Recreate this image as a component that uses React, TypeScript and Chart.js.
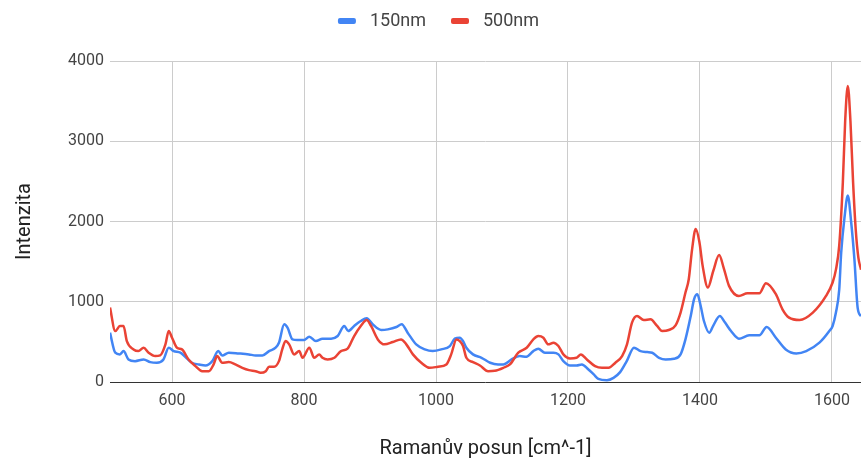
import React, { useEffect, useRef } from "react";
import { Chart, registerables } from "chart.js";

Chart.register(...registerables);

const seriesNames = ["150nm", "500nm"];
const seriesColors = ["#4285F4", "#EA4335"];

const shift150 = [
  506, 514, 521, 526.5, 534, 544, 557, 567, 577, 587, 595, 602.5, 612.6, 620, 630, 640.6, 650.7, 661, 670, 676,
  686, 701, 716.6, 726.7, 737, 747, 757, 762, 770, 775, 782.5, 790, 800, 808, 818, 828, 841, 851, 861, 867,
  876, 886, 895, 904, 917, 927, 940, 948, 957, 970, 983, 995, 1008, 1021, 1028.5, 1036, 1041, 1046, 1056, 1069,
  1082, 1094, 1102, 1114.5, 1127, 1137, 1147.5, 1155, 1165, 1178, 1185.5, 1193, 1203, 1213, 1221, 1231, 1239, 1246, 1259, 1269,
  1279, 1289, 1300, 1310, 1320, 1327.5, 1338, 1348, 1360.5, 1370.6, 1378, 1386, 1391, 1396, 1401, 1406, 1414, 1420, 1430, 1438,
  1447, 1459, 1474.5, 1490, 1501, 1515, 1530, 1546, 1561, 1581, 1596, 1601, 1606, 1611, 1614, 1619, 1624, 1629, 1634, 1639, 1644,
];
const intensity150 = [
  615, 365, 344, 385, 281, 260, 281, 248, 240, 281, 427, 385, 365, 315, 240, 219, 206, 260, 385, 331,
  365, 356, 344, 331, 331, 385, 427, 490, 719, 677, 531, 523, 523, 565, 510, 540, 540, 573, 698, 635,
  698, 760, 794, 719, 648, 656, 685, 719, 615, 469, 406, 385, 406, 448, 540, 552, 510, 427, 344, 302,
  240, 219, 219, 281, 323, 315, 385, 415, 365, 365, 344, 260, 206, 206, 219, 156, 94, 40, 23, 52,
  123, 260, 427, 385, 373, 365, 302, 281, 290, 344, 531, 823, 1031, 1094, 950, 760, 615, 700, 823, 740,
  635, 540, 581, 581, 685, 552, 406, 356, 385, 490, 635, 698, 865, 1150, 1615, 2050, 2323, 2000, 1531, 920, 820,
];

const shift500 = [
  506, 514, 521, 526.5, 531.5, 541.7, 549, 557, 564.5, 574.6, 582, 590, 595, 600, 607.6, 615, 625, 635.5, 645.6, 655.8,
  663, 668.4, 676, 686, 696, 706.5, 716.6, 726.7, 734.3, 742, 747, 754.7, 762, 767, 772, 777.5, 785, 792.7, 797.7, 808,
  815.5, 823, 828, 835.7, 846, 856, 866, 876, 886, 895, 901.6, 911.8, 922, 934.6, 947, 955, 965, 977.7, 990.4, 1003,
  1015.7, 1023, 1031, 1036, 1041, 1046, 1056, 1066.5, 1079, 1089, 1102, 1112, 1124.7, 1137.4, 1147.5, 1155, 1162.7, 1170, 1178, 1185.5,
  1193, 1203, 1213, 1219.5, 1228.6, 1241, 1251.5, 1261.6, 1271.8, 1282, 1289.4, 1297, 1304.6, 1314.8, 1325, 1335, 1342.7, 1352.8, 1363, 1370.6,
  1378, 1383, 1388, 1393.5, 1399, 1404, 1412, 1420, 1429, 1436, 1444, 1459, 1472, 1490, 1500, 1515, 1525, 1535, 1551, 1571,
  1591, 1601, 1606, 1611, 1616.5, 1620, 1624, 1628, 1632, 1636, 1640, 1644,
];
const intensity500 = [
  927, 635, 697, 697, 510, 406, 385, 427, 365, 323, 331, 469, 635, 552, 427, 406, 281, 198, 135, 135,
  219, 323, 240, 248, 219, 177, 148, 135, 115, 135, 190, 190, 260, 406, 510, 469, 344, 385, 302, 427,
  302, 344, 302, 281, 302, 385, 415, 573, 698, 773, 698, 531, 469, 498, 531, 469, 344, 240, 177, 190,
  219, 344, 531, 510, 448, 302, 248, 206, 135, 140, 177, 219, 365, 427, 531, 573, 552, 469, 490, 448,
  344, 294, 302, 344, 281, 198, 177, 177, 240, 323, 469, 740, 823, 773, 781, 698, 635, 648, 706, 865,
  1115, 1281, 1650, 1906, 1750, 1450, 1177, 1380, 1581, 1420, 1198, 1073, 1106, 1106, 1231, 1094, 906, 802, 773, 865,
  1073, 1240, 1400, 1700, 2490, 3250, 3690, 3250, 2490, 1900, 1550, 1400,
];

const xTickValues = [600, 800, 1000, 1200, 1400, 1600];
const yTickValues = [0, 1000, 2000, 3000, 4000];
const xTitle = "Ramanův posun [cm^-1]";
const yTitle = "Intenzita";

const FONT = "Roboto, 'Liberation Sans', Arial, sans-serif";
const PAD_LEFT = 16;

const legendPlugin = {
  id: "topLegend",
  afterDraw(chart: any) {
    const ctx = chart.ctx;
    ctx.save();
    ctx.font = `18px ${FONT}`;
    const swW = 18, swH = 6, gapText = 14, gapItem = 25;
    const widths = seriesNames.map((n) => ctx.measureText(n).width);
    const total = widths.reduce((a, w) => a + swW + gapText + w, 0) + gapItem * (seriesNames.length - 1);
    let x = (PAD_LEFT + chart.width) / 2 - total / 2;
    const cy = 21;
    seriesNames.forEach((name, i) => {
      ctx.fillStyle = seriesColors[i];
      ctx.beginPath();
      if (ctx.roundRect) ctx.roundRect(x, cy - swH / 2, swW, swH, 2);
      else ctx.rect(x, cy - swH / 2, swW, swH);
      ctx.fill();
      ctx.fillStyle = "#444";
      ctx.textBaseline = "middle";
      ctx.textAlign = "left";
      ctx.fillText(name, x + swW + gapText, cy);
      x += swW + gapText + widths[i] + gapItem;
    });
    ctx.restore();
  },
};

export default function App() {
  const ref = useRef<HTMLCanvasElement | null>(null);
  useEffect(() => {
    if (!ref.current) return;
    const chart = new Chart(ref.current, {
      type: "line",
      data: {
        datasets: [
          {
            label: seriesNames[0],
            data: shift150.map((x, i) => ({ x, y: intensity150[i] })),
            borderColor: seriesColors[0],
            backgroundColor: seriesColors[0],
            borderWidth: 2.5,
            pointRadius: 0,
            cubicInterpolationMode: "monotone",
            order: 1,
          },
          {
            label: seriesNames[1],
            data: shift500.map((x, i) => ({ x, y: intensity500[i] })),
            borderColor: seriesColors[1],
            backgroundColor: seriesColors[1],
            borderWidth: 2.5,
            pointRadius: 0,
            cubicInterpolationMode: "monotone",
            order: 0,
          },
        ],
      },
      options: {
        animation: false,
        responsive: false,
        devicePixelRatio: 1,
        layout: { padding: { left: PAD_LEFT, right: 0, top: 0, bottom: 0 } },
        plugins: {
          legend: { display: false },
          subtitle: {
            display: true,
            text: " ",
            weight: 500,
            font: { size: 1, lineHeight: 1 },
            padding: { top: 0, bottom: 60 },
          } as any,
          tooltip: { enabled: false },
        },
        scales: {
          x: {
            type: "linear",
            min: 506,
            max: 1644,
            afterBuildTicks: (s: any) => {
              s.ticks = xTickValues.map((v) => ({ value: v }));
            },
            afterFit: (s: any) => {
              s.height = 77;
            },
            grid: { color: "#cccccc", drawTicks: false },
            border: { display: false },
            ticks: {
              font: { family: FONT, size: 16 },
              color: "#444",
              padding: 9,
              maxRotation: 0,
              callback: (v: any) => String(v),
            },
            title: {
              display: true,
              text: xTitle,
              font: { family: FONT, size: 20, lineHeight: 1 },
              color: "#222",
              padding: { top: 0, bottom: 0 },
            },
          },
          y: {
            type: "linear",
            min: 0,
            max: 4000,
            afterBuildTicks: (s: any) => {
              s.ticks = yTickValues.map((v) => ({ value: v }));
            },
            afterFit: (s: any) => {
              s.width = 110 - PAD_LEFT;
            },
            grid: {
              color: (c: any) => (c.tick && c.tick.value === 0 ? "#333333" : "#cccccc"),
              drawTicks: false,
            },
            border: { display: false },
            ticks: {
              font: { family: FONT, size: 16 },
              color: "#444",
              padding: 6,
              callback: (v: any) => String(v),
            },
            title: {
              display: true,
              text: yTitle,
              font: { family: FONT, size: 20, lineHeight: 1 },
              color: "#222",
              padding: { top: -1, bottom: 0 },
            },
          },
        },
      },
      plugins: [legendPlugin],
    });
    return () => chart.destroy();
  }, []);
  return (
    <div style={{ position: "fixed", left: 0, top: 0, width: 861, height: 459, overflow: "hidden", background: "#fff" }}>
      <canvas ref={ref} width={861} height={459} style={{ display: "block", width: 861, height: 459 }} />
    </div>
  );
}
